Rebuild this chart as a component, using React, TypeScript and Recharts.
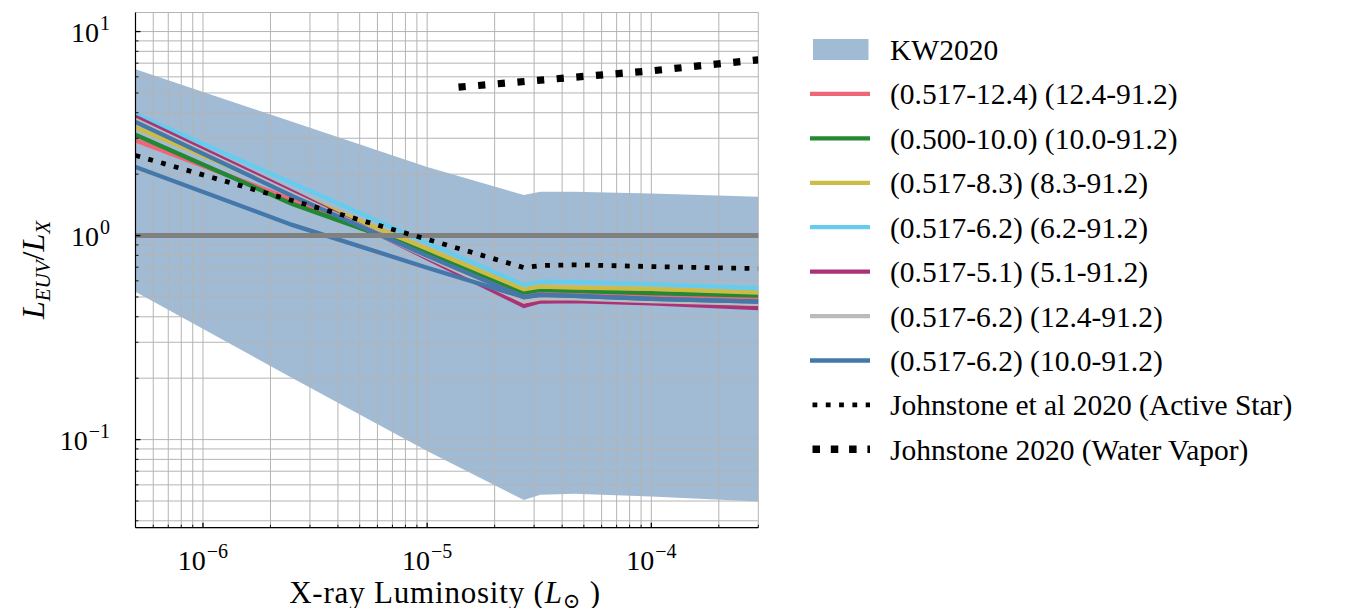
import React from 'react';
import {
  ComposedChart,
  Line,
  Area,
  XAxis,
  YAxis,
  CartesianGrid,
  ReferenceLine,
} from 'recharts';

// ---------------- data ----------------
// X-ray luminosity (L_sun) sample points
const xLum = [5e-7, 2.5e-6, 1e-5, 1.38e-5, 2.7e-5, 3.2e-5, 4.5e-5, 1e-4, 3e-4];

// KW2020 envelope
const kwLow = [0.53, 0.2006, 0.088, null, 0.0506, 0.0536, 0.0542, 0.0526, 0.0497];
const kwHigh = [6.54, 3.61, 2.17, null, 1.58, 1.64, 1.64, 1.61, 1.55];

// band-split series  L_EUV / L_X
const s124 = [2.93, 1.5, 0.823, null, 0.506, 0.525, 0.518, 0.507, 0.487]; // (0.517-12.4) (12.4-91.2)
const s100 = [3.12, 1.43, 0.832, null, 0.526, 0.542, 0.536, 0.522, 0.508]; // (0.500-10.0) (10.0-91.2)
const s83 = [3.39, 1.62, 0.861, null, 0.546, 0.562, 0.556, 0.548, 0.526]; // (0.517-8.3) (8.3-91.2)
const s62 = [3.95, 1.81, 0.921, null, 0.573, 0.595, 0.593, 0.578, 0.552]; // (0.517-6.2) (6.2-91.2)
const s51 = [3.82, 1.64, 0.774, null, 0.452, 0.475, 0.478, 0.466, 0.441]; // (0.517-5.1) (5.1-91.2)
const s62b124 = [3.69, 1.6, 0.786, null, 0.475, 0.492, 0.492, 0.478, 0.463]; // (0.517-6.2) (12.4-91.2)
const s62b100 = [2.17, 1.128, 0.696, null, 0.499, 0.512, 0.506, 0.489, 0.475]; // (0.517-6.2) (10.0-91.2)
const s62b100Upper = [3.61, 1.566, 0.795, null, 0.499, 0.512, 0.506, 0.489, 0.475]; // extra blue trace (no legend)

// Johnstone relations
const activeStar = [2.47, 1.486, 0.959, null, 0.697, 0.713, 0.719, 0.705, 0.689];
const waterVapor = [null, null, null, 5.34, null, null, 5.97, 6.42, 7.27];

const unityRatio = 1;

// axis ticks
const xDomain = [5e-7, 3e-4];
const yDomain = [0.037, 12.4];
const xTicks = [
  6e-7, 7e-7, 8e-7, 9e-7, 1e-6,
  2e-6, 3e-6, 4e-6, 5e-6, 6e-6, 7e-6, 8e-6, 9e-6, 1e-5,
  2e-5, 3e-5, 4e-5, 5e-5, 6e-5, 7e-5, 8e-5, 9e-5, 1e-4,
  2e-4, 3e-4,
];
const yTicks = [
  0.04, 0.05, 0.06, 0.07, 0.08, 0.09, 0.1,
  0.2, 0.3, 0.4, 0.5, 0.6, 0.7, 0.8, 0.9, 1,
  2, 3, 4, 5, 6, 7, 8, 9, 10,
];

const legendLabels = [
  'KW2020',
  '(0.517-12.4) (12.4-91.2)',
  '(0.500-10.0) (10.0-91.2)',
  '(0.517-8.3) (8.3-91.2)',
  '(0.517-6.2) (6.2-91.2)',
  '(0.517-5.1) (5.1-91.2)',
  '(0.517-6.2) (12.4-91.2)',
  '(0.517-6.2) (10.0-91.2)',
  'Johnstone et al 2020 (Active Star)',
  'Johnstone 2020 (Water Vapor)',
];

// ---------------- styles ----------------
const FONT = '"Liberation Serif", "DejaVu Serif", "Times New Roman", serif';
const C = {
  blue: '#4477AA',
  cyan: '#66CCEE',
  green: '#228833',
  yellow: '#CCBB44',
  red: '#EE6677',
  purple: '#AA3377',
  grey: '#BBBBBB',
};
const LW = 4.3;
const ACTIVE_W = 4.8;
const ACTIVE_DASH = '4.8 8.5';
const WATER_W = 7.2;
const WATER_DASH = '7.2 12.5';

const legendStyles = [
  { kind: 'patch', color: C.blue },
  { kind: 'line', color: C.red },
  { kind: 'line', color: C.green },
  { kind: 'line', color: C.yellow },
  { kind: 'line', color: C.cyan },
  { kind: 'line', color: C.purple },
  { kind: 'line', color: C.grey },
  { kind: 'line', color: C.blue },
  { kind: 'dash', color: '#000', width: ACTIVE_W, dash: '4.8 8.5' },
  { kind: 'dash', color: '#000', width: 7.5, dash: '7.5 10.8' },
];

const chartData = xLum.map((x, i) => ({
  x,
  kw: kwLow[i] == null ? null : [kwLow[i], kwHigh[i]],
  s124: s124[i],
  s100: s100[i],
  s83: s83[i],
  s62: s62[i],
  s51: s51[i],
  s62b124: s62b124[i],
  s62b100Upper: s62b100Upper[i],
  s62b100: s62b100[i],
  active: activeStar[i],
  water: waterVapor[i],
}));

// ---------------- ticks ----------------
const isMajor = (v: number) =>
  Math.abs(Math.log10(v) - Math.round(Math.log10(v))) < 1e-6;
const expText = (v: number) => {
  const e = Math.round(Math.log10(v));
  return e < 0 ? '\u2212' + Math.abs(e) : String(e);
};
const MAJOR_LEN = 5;
const MINOR_LEN = 3;
const TICK_FS = 28;
const EXP_FS = 20;

function BottomTick(props: any) {
  const { x, y, payload } = props;
  const v = payload.value;
  const major = isMajor(v);
  return (
    <g>
      <line x1={x} x2={x} y1={y} y2={y - (major ? MAJOR_LEN : MINOR_LEN)} stroke="#000" strokeWidth={major ? 1.3 : 0.9} />
      {major && (
        <text x={x} y={y + 42.3} textAnchor="middle" fontFamily={FONT} style={{ fontFamily: FONT }} fontSize={TICK_FS} fill="#000">
          10
          <tspan dx={1} dy={-12} fontSize={EXP_FS}>
            {expText(v)}
          </tspan>
        </text>
      )}
    </g>
  );
}

function TopTick(props: any) {
  const { x, y, payload } = props;
  const major = isMajor(payload.value);
  return (
    <line x1={x} x2={x} y1={y} y2={y + (major ? MAJOR_LEN : MINOR_LEN)} stroke="#000" strokeWidth={major ? 1.3 : 0.9} />
  );
}

function LeftTick(props: any) {
  const { x, y, payload } = props;
  const v = payload.value;
  const major = isMajor(v);
  return (
    <g>
      <line x1={x} x2={x + (major ? MAJOR_LEN : MINOR_LEN)} y1={y} y2={y} stroke="#000" strokeWidth={major ? 1.3 : 0.9} />
      {major && (
        <text x={x - 25.5} y={y + 10.5} textAnchor="end" fontFamily={FONT} style={{ fontFamily: FONT }} fontSize={TICK_FS} fill="#000">
          10
          <tspan dx={1} dy={-12} fontSize={EXP_FS}>
            {expText(v)}
          </tspan>
        </text>
      )}
    </g>
  );
}

function RightTick(props: any) {
  const { x, y, payload } = props;
  const major = isMajor(payload.value);
  return (
    <line x1={x} x2={x - (major ? MAJOR_LEN : MINOR_LEN)} y1={y} y2={y} stroke="#000" strokeWidth={major ? 1.3 : 0.9} />
  );
}

// ---------------- legend / titles overlay ----------------
function Overlay() {
  const rowY0 = 49.5;
  const rowStep = 44.43;
  return (
    <svg
      width={1351}
      height={616}
      style={{ position: 'absolute', left: 0, top: 0, pointerEvents: 'none', fontFamily: FONT }}
    >
      {legendLabels.map((label, i) => {
        const st: any = legendStyles[i];
        const cy = rowY0 + i * rowStep;
        let handle: any = null;
        if (st.kind === 'patch') {
          handle = <rect x={813} y={cy - 10.5} width={55.5} height={21} fill={st.color} fillOpacity={0.5} />;
        } else if (st.kind === 'line') {
          handle = <line x1={810} x2={870} y1={cy} y2={cy} stroke={st.color} strokeWidth={LW} />;
        } else {
          handle = (
            <line x1={812.5} x2={870} y1={cy} y2={cy} stroke={st.color} strokeWidth={st.width} strokeDasharray={st.dash} />
          );
        }
        return (
          <g key={label}>
            {handle}
            <text x={890} y={cy + 10.5} fontFamily={FONT} fontSize={29.5} fill="#000">
              {label}
            </text>
          </g>
        );
      })}
      {/* x-axis title */}
      <text x={445} y={603} textAnchor="middle" fontFamily={FONT} fontSize={31} letterSpacing={0.8} fill="#000">
        X-ray Luminosity (
        <tspan fontStyle="italic">L</tspan>
        <tspan dy={5} fontSize={21}>{'\u2299'}</tspan>
        <tspan dy={-5}> )</tspan>
      </text>
      {/* y-axis title */}
      <text
        x={44}
        y={270}
        textAnchor="middle"
        fontFamily={FONT}
        fontSize={32}
        fill="#000"
        transform="rotate(-90 44 270)"
      >
        <tspan fontStyle="italic">L</tspan>
        <tspan dy={6} fontSize={21} fontStyle="italic">EUV</tspan>
        <tspan dy={-6}>/</tspan>
        <tspan fontStyle="italic">L</tspan>
        <tspan dy={6} fontSize={21} fontStyle="italic">X</tspan>
      </text>
    </svg>
  );
}

export default function App() {
  return (
    <div style={{ position: 'relative', width: 1351, height: 616, margin: -8, background: '#fff' }}>
      <ComposedChart
        width={1351}
        height={616}
        data={chartData}
        margin={{ top: 12.5, right: 592.7, bottom: 0, left: 0 }}
      >
        <XAxis
          dataKey="x"
          type="number"
          scale="log"
          domain={xDomain}
          allowDataOverflow
          ticks={xTicks}
          interval={0}
          height={88.3}
          tickSize={0}
          tickMargin={0}
          tickLine={false}
          axisLine={{ stroke: '#000', strokeWidth: 1.2 }}
          tick={<BottomTick />}
        />
        <XAxis
          xAxisId="top"
          orientation="top"
          dataKey="x"
          type="number"
          scale="log"
          domain={xDomain}
          allowDataOverflow
          ticks={xTicks}
          interval={0}
          height={0}
          tickSize={0}
          tickMargin={0}
          tickLine={false}
          axisLine={{ stroke: '#000', strokeWidth: 1.2 }}
          tick={<TopTick />}
        />
        <YAxis
          type="number"
          scale="log"
          domain={yDomain}
          allowDataOverflow
          ticks={yTicks}
          interval={0}
          width={135.5}
          tickSize={0}
          tickMargin={0}
          tickLine={false}
          axisLine={{ stroke: '#000', strokeWidth: 1.2 }}
          tick={<LeftTick />}
        />
        <YAxis
          yAxisId="right"
          orientation="right"
          type="number"
          scale="log"
          domain={yDomain}
          allowDataOverflow
          ticks={yTicks}
          interval={0}
          width={0}
          tickSize={0}
          tickMargin={0}
          tickLine={false}
          axisLine={{ stroke: '#000', strokeWidth: 1.2 }}
          tick={<RightTick />}
        />
        <Area
          dataKey="kw"
          type="linear"
          stroke="none"
          fill={C.blue}
          fillOpacity={0.5}
          connectNulls
          isAnimationActive={false}
          activeDot={false}
          dot={false}
        />
        <CartesianGrid stroke="#b4b4b4" strokeWidth={1} zIndex={150} />
        <Line dataKey="s124" stroke={C.red} strokeWidth={LW} dot={false} activeDot={false} connectNulls isAnimationActive={false} />
        <Line dataKey="s100" stroke={C.green} strokeWidth={LW} dot={false} activeDot={false} connectNulls isAnimationActive={false} />
        <Line dataKey="s83" stroke={C.yellow} strokeWidth={LW} dot={false} activeDot={false} connectNulls isAnimationActive={false} />
        <Line dataKey="s62" stroke={C.cyan} strokeWidth={LW} dot={false} activeDot={false} connectNulls isAnimationActive={false} />
        <Line dataKey="s51" stroke={C.purple} strokeWidth={LW} dot={false} activeDot={false} connectNulls isAnimationActive={false} />
        <Line dataKey="s62b124" stroke={C.grey} strokeWidth={LW} dot={false} activeDot={false} connectNulls isAnimationActive={false} />
        <Line dataKey="s62b100Upper" stroke={C.blue} strokeWidth={LW} dot={false} activeDot={false} connectNulls isAnimationActive={false} />
        <Line dataKey="s62b100" stroke={C.blue} strokeWidth={LW} dot={false} activeDot={false} connectNulls isAnimationActive={false} />
        <ReferenceLine y={unityRatio} stroke="#808080" strokeWidth={5} zIndex={450} />
        <Line
          dataKey="active"
          stroke="#000"
          strokeWidth={ACTIVE_W}
          strokeDasharray={ACTIVE_DASH}
          dot={false}
          activeDot={false}
          connectNulls
          isAnimationActive={false}
          zIndex={460}
        />
        <Line
          dataKey="water"
          stroke="#000"
          strokeWidth={WATER_W}
          strokeDasharray={WATER_DASH}
          dot={false}
          activeDot={false}
          connectNulls
          isAnimationActive={false}
          zIndex={460}
        />
      </ComposedChart>
      <Overlay />
    </div>
  );
}
